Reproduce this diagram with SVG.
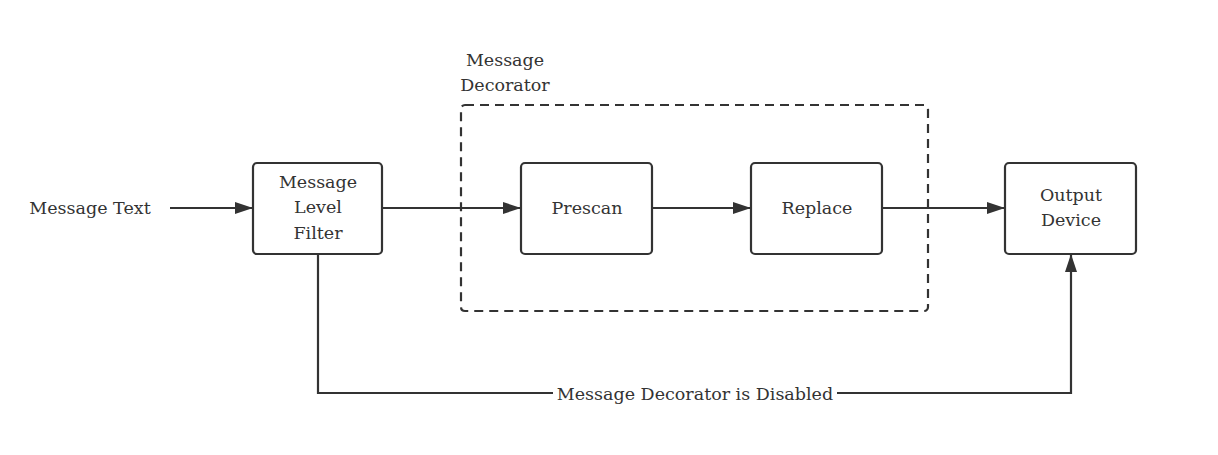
<svg xmlns="http://www.w3.org/2000/svg" width="1218" height="455" viewBox="0 0 1218 455">
<style>
.box{fill:#fff;stroke:#333;stroke-width:2.2}
.dash{fill:none;stroke:#333;stroke-width:2.2;stroke-dasharray:9 6}
.ln{fill:none;stroke:#333;stroke-width:2.2}
text{font-family:"DejaVu Serif","Liberation Serif",serif;font-size:17.5px;fill:#333;text-anchor:middle;dominant-baseline:central}
</style>
<defs>
<marker id="ah" markerWidth="18" markerHeight="12" refX="17" refY="6" orient="auto" markerUnits="userSpaceOnUse">
<path d="M0,0 L18,6 L0,12 Z" fill="#333"/>
</marker>
</defs>
<rect width="1218" height="455" fill="#fff"/>
<g id="decorator">
<rect class="dash" x="461" y="105" width="467" height="206" rx="4"/>
<text x="505" y="60">Message</text>
<text x="505" y="85">Decorator</text>
</g>
<g id="connectors">
<path class="ln" d="M170,208 L252,208" marker-end="url(#ah)"/>
<path class="ln" d="M383,208 L520,208" marker-end="url(#ah)"/>
<path class="ln" d="M652,208 L750,208" marker-end="url(#ah)"/>
<path class="ln" d="M882,208 L1004,208" marker-end="url(#ah)"/>
<path class="ln" d="M318,254 L318,393 L1071,393 L1071,255" marker-end="url(#ah)"/>
<rect x="553" y="382" width="284" height="22" fill="#fff"/>
<text x="695" y="394">Message Decorator is Disabled</text>
</g>
<g id="input">
<text x="90" y="208">Message Text</text>
</g>
<g id="filter">
<rect class="box" x="253" y="163" width="129" height="91" rx="4"/>
<text x="318" y="182">Message</text>
<text x="318" y="207">Level</text>
<text x="318" y="233">Filter</text>
</g>
<g id="prescan">
<rect class="box" x="521" y="163" width="131" height="91" rx="4"/>
<text x="587" y="208">Prescan</text>
</g>
<g id="replace">
<rect class="box" x="751" y="163" width="131" height="91" rx="4"/>
<text x="817" y="208">Replace</text>
</g>
<g id="output">
<rect class="box" x="1005" y="163" width="131" height="91" rx="4"/>
<text x="1071" y="195">Output</text>
<text x="1071" y="220">Device</text>
</g>
</svg>
